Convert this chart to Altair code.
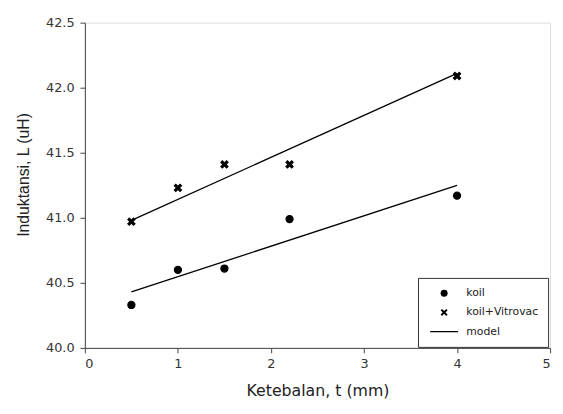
import altair as alt
import pandas as pd

# data
t_vals = [0.5, 1.0, 1.5, 2.2, 4.0]
koil = [40.33, 40.60, 40.61, 40.99, 41.17]
koil_vit = [40.97, 41.23, 41.41, 41.41, 42.09]
t_model = [0.5, 4.0]
model_koil = [40.43, 41.25]
model_vit = [40.98, 42.11]

series_names = ["koil", "koil+Vitrovac", "model"]
x_ticks = [0, 1, 2, 3, 4, 5]
y_ticks = [40.0, 40.5, 41.0, 41.5, 42.0, 42.5]

pts = pd.DataFrame(
    {"t": t_vals * 2, "L": koil + koil_vit, "series": ["koil"] * 5 + ["koil+Vitrovac"] * 5}
)
lines = pd.DataFrame(
    {"t": t_model * 2, "L": model_koil + model_vit, "grp": ["a", "a", "b", "b"]}
)

X_PATH = "M-1,-0.6L-0.6,-1L0,-0.4L0.6,-1L1,-0.6L0.4,0L1,0.6L0.6,1L0,0.4L-0.6,1L-1,0.6L-0.4,0Z"
LINE_PATH = "M-4,-0.18L4,-0.18L4,0.18L-4,0.18Z"

WIDE = "DejaVu Sans"
ARIAL = "Liberation Sans"
AX = "#444444"

x_enc = alt.X(
    "t:Q",
    scale=alt.Scale(domain=[0, 5], nice=False),
    axis=alt.Axis(
        values=x_ticks, format="d", title="Ketebalan, t (mm)", grid=False,
        domainColor=AX, tickColor=AX, tickSize=5, labelPadding=5,
        labelFontSize=13, labelColor="#333333", titleFontSize=16,
        titleFontWeight="normal", titleColor="#222222", titlePadding=12,
        labelFont=WIDE, titleFont=WIDE,
    ),
)
y_enc = alt.Y(
    "L:Q",
    scale=alt.Scale(domain=[40.0, 42.5], nice=False, zero=False),
    axis=alt.Axis(
        values=y_ticks, format=".1f", title="Induktansi, L (uH)", grid=False,
        domainColor=AX, tickColor=AX, tickSize=5, labelPadding=6,
        labelFontSize=13, labelColor="#333333", titleFontSize=16,
        titleFontWeight="normal", titleColor="#222222", titlePadding=14,
        titleY=154,
        labelFont=WIDE, titleFont=ARIAL,
    ),
)

line_layer = alt.Chart(lines).mark_line(color="black", strokeWidth=1.3).encode(
    x=x_enc, y=y_enc, detail="grp:N"
)

point_layer = alt.Chart(pts).mark_point(
    filled=True, fill="black", stroke="black", strokeWidth=1.2, size=52, opacity=1
).encode(
    x=x_enc,
    y=y_enc,
    shape=alt.Shape(
        "series:N",
        scale=alt.Scale(domain=series_names, range=["circle", X_PATH, LINE_PATH]),
        legend=alt.Legend(
            title=None,
            orient="none",
            legendX=338,
            legendY=259,
            padding=10,
            symbolOffset=11,
            labelOffset=17,
            rowPadding=6.5,
            labelFontSize=11,
            labelFont=WIDE,
            labelColor="#222222",
            symbolSize=50,
            symbolFillColor="black",
            symbolStrokeColor="black",
            symbolStrokeWidth=1.2,
            strokeColor="#333333",
            fillColor="white",
        ),
    ),
)

chart = (
    alt.layer(line_layer, point_layer)
    .properties(
        width=472,
        height=330,
        autosize=alt.AutoSizeParams(type="none"),
        padding={"left": 78, "top": 12, "right": 5, "bottom": 50},
    )
    .configure_view(stroke=AX, strokeWidth=1)
    .configure(background="white")
)

chart.save("out.html", embed_options={"renderer": "svg", "actions": False})
